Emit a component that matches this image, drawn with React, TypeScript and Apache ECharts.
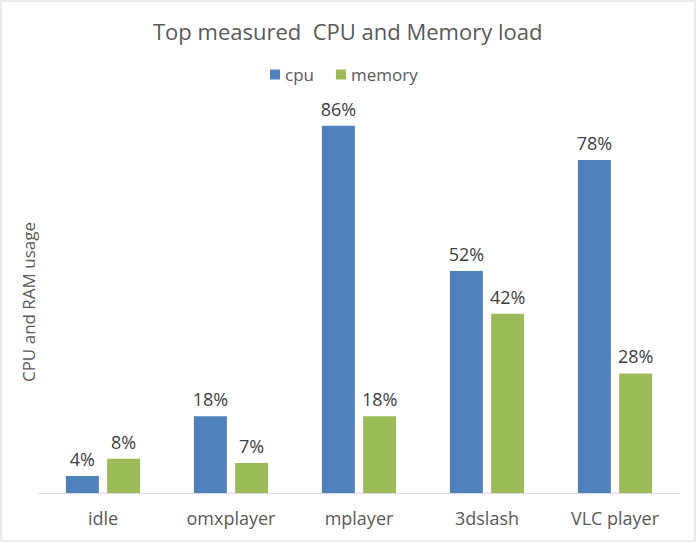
import React, { useEffect, useRef } from "react";
import * as echarts from "echarts";

const categories = ["idle", "omxplayer", "mplayer", "3dslash", "VLC player"];
const cpuValues = [4, 18, 86, 52, 78];
const memoryValues = [8, 7, 18, 42, 28];

export default function App() {
  const ref = useRef<HTMLDivElement>(null);
  useEffect(() => {
    const chart = echarts.init(ref.current!, null, { renderer: "svg" });
    const font = "'Open Sans', 'Noto Sans', sans-serif";
    const label = {
      show: true,
      position: "top",
      formatter: "{c}%",
      color: "#404040",
      fontSize: 18,
      fontFamily: font,
      distance: 8,
    };
    chart.setOption({
      animation: false,
      backgroundColor: "#ffffff",
      title: {
        text: "Top measured  CPU and Memory load",
        left: 148,
        top: 15,
        textStyle: { fontSize: 22, fontWeight: "normal", color: "#595959", fontFamily: font },
      },
      legend: {
        top: 61,
        left: 265,
        icon: "rect",
        itemWidth: 10,
        itemHeight: 10,
        itemGap: 22,
        textStyle: { fontSize: 17, color: "#595959", fontFamily: font },
        data: ["cpu", "memory"],
      },
      graphic: [
        {
          type: "rect",
          shape: { x: 1, y: 1, width: 694, height: 540 },
          style: { fill: "none", stroke: "#d9d9d9", lineWidth: 1 },
          silent: true,
        },
        {
          type: "text",
          x: 28,
          y: 302,
          rotation: Math.PI / 2,
          style: {
            text: "CPU and RAM usage",
            fill: "#595959",
            fontSize: 17,
            fontFamily: font,
            align: "center",
            verticalAlign: "middle",
          },
          silent: true,
        },
      ],
      grid: { left: 39, right: 18, top: 66, bottom: 50 },
      xAxis: {
        type: "category",
        data: categories,
        axisLine: { lineStyle: { color: "#d9d9d9" } },
        axisTick: { show: false },
        axisLabel: { color: "#595959", fontSize: 18, fontFamily: font, margin: 16 },
      },
      yAxis: {
        type: "value",
        min: 0,
        max: 100,
        axisLabel: { show: false },
        axisLine: { show: false },
        axisTick: { show: false },
        splitLine: { show: false },
      },
      series: [
        {
          name: "cpu",
          type: "bar",
          data: cpuValues,
          barWidth: 33,
          barGap: "25%",
          itemStyle: { color: "#4f81bd" },
          label,
        },
        {
          name: "memory",
          type: "bar",
          data: memoryValues,
          barWidth: 33,
          itemStyle: { color: "#9bbb59" },
          label,
        },
      ],
    });
    return () => chart.dispose();
  }, []);
  return (
    <div
      ref={ref}
      style={{ position: "fixed", left: 0, top: 0, width: 697, height: 543 }}
    />
  );
}
